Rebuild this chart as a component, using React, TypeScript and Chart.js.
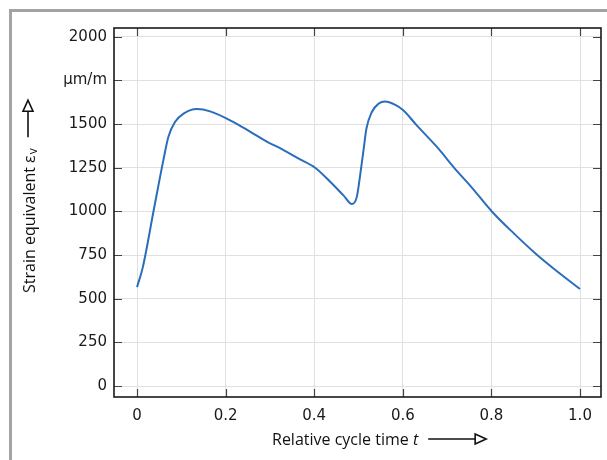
import React, { useEffect, useRef } from "react";
import { Chart, registerables } from "chart.js";

Chart.register(...registerables);

const tValues = [
  0, 0.013, 0.037, 0.059, 0.071, 0.086, 0.105, 0.135, 0.165,
  0.217, 0.255, 0.296, 0.315, 0.368, 0.402, 0.436, 0.466, 0.485, 0.496,
  0.503, 0.511, 0.518, 0.53, 0.545, 0.56, 0.582, 0.601, 0.631, 0.676,
  0.722, 0.752, 0.801, 0.85, 0.902, 0.951, 1.0,
];
const strainValues = [
  567, 680, 998, 1288, 1429, 1513, 1560, 1586, 1573,
  1513, 1457, 1395, 1372, 1298, 1250, 1170, 1092, 1042, 1082,
  1195, 1345, 1476, 1569, 1616, 1629, 1611, 1579, 1494, 1372,
  1232, 1148, 1000, 876, 754, 652, 556,
];
const xTickValues = [0, 0.2, 0.4, 0.6, 0.8, 1.0];
const xTickLabels = ["0", "0.2", "0.4", "0.6", "0.8", "1.0"];
const yTickValues = [0, 250, 500, 750, 1000, 1250, 1500, 1750, 2000];
const yTickLabels = ["0", "250", "500", "750", "1000", "1250", "1500", "µm/m", "2000"];
const yTitle = "Strain equivalent ε";
const yTitleSub = "v";
const xTitle = "Relative cycle time ";
const xTitleVar = "t";

const TITLE_FONT = "16px 'Open Sans'";

function drawArrow(ctx: CanvasRenderingContext2D, x0: number, y0: number, x1: number, y1: number) {
  const ang = Math.atan2(y1 - y0, x1 - x0);
  const headLen = 11;
  const headHalf = 5;
  const bx = x1 - headLen * Math.cos(ang);
  const by = y1 - headLen * Math.sin(ang);
  ctx.save();
  ctx.strokeStyle = "#111";
  ctx.lineWidth = 1.6;
  ctx.beginPath();
  ctx.moveTo(x0, y0);
  ctx.lineTo(bx, by);
  ctx.stroke();
  const px = -Math.sin(ang);
  const py = Math.cos(ang);
  ctx.beginPath();
  ctx.moveTo(x1, y1);
  ctx.lineTo(bx + px * headHalf, by + py * headHalf);
  ctx.lineTo(bx - px * headHalf, by - py * headHalf);
  ctx.closePath();
  ctx.stroke();
  ctx.restore();
}

const framePlugin = {
  id: "framePlugin",
  afterDraw(chart: any) {
    const ctx: CanvasRenderingContext2D = chart.ctx;
    const { left, right, top, bottom } = chart.chartArea;
    const xs = chart.scales.x;
    const ys = chart.scales.y;
    ctx.save();
    ctx.strokeStyle = "#444";
    ctx.lineWidth = 1.2;
    ctx.beginPath();
    xTickValues.forEach((v) => {
      const px = Math.round(xs.getPixelForValue(v)) + 0.5;
      ctx.moveTo(px, bottom);
      ctx.lineTo(px, bottom - 8);
      ctx.moveTo(px, top);
      ctx.lineTo(px, top + 8);
    });
    yTickValues.forEach((v) => {
      const py = Math.round(ys.getPixelForValue(v)) + 0.5;
      ctx.moveTo(left, py);
      ctx.lineTo(left + 8, py);
      ctx.moveTo(right, py);
      ctx.lineTo(right - 8, py);
    });
    ctx.stroke();
    ctx.strokeStyle = "#1a1a1a";
    ctx.lineWidth = 1.6;
    ctx.strokeRect(left, top, right - left, bottom - top);

    // x title
    ctx.fillStyle = "#111";
    ctx.font = TITLE_FONT;
    ctx.textBaseline = "middle";
    ctx.textAlign = "left";
    const xtY = bottom + 43;
    const xtX = left + 158;
    ctx.fillText(xTitle, xtX, xtY);
    const w1 = ctx.measureText(xTitle).width;
    ctx.font = "italic " + TITLE_FONT;
    ctx.fillText(xTitleVar, xtX + w1, xtY);
    const w2 = ctx.measureText(xTitleVar).width;
    const axStart = xtX + w1 + w2 + 10;
    drawArrow(ctx, axStart, xtY - 1, axStart + 58, xtY - 1);

    // y title (rotated)
    ctx.save();
    const ytX = 18;
    const ytY = 281;
    ctx.translate(ytX, ytY);
    ctx.rotate(-Math.PI / 2);
    ctx.font = TITLE_FONT;
    ctx.textBaseline = "middle";
    ctx.textAlign = "left";
    ctx.fillText(yTitle, 0, 0);
    const yw = ctx.measureText(yTitle).width;
    ctx.font = "12px 'Open Sans'";
    ctx.fillText(yTitleSub, yw + 1, 4);
    const sw = ctx.measureText(yTitleSub).width;
    ctx.restore();
    const arrowStartY = ytY - (yw + sw + 12);
    drawArrow(ctx, ytX - 2, arrowStartY, ytX - 2, arrowStartY - 37);
    ctx.restore();
  },
};

export default function App() {
  const canvasRef = useRef<HTMLCanvasElement | null>(null);

  useEffect(() => {
    if (!canvasRef.current) return;
    const points = tValues.map((t, i) => ({ x: t, y: strainValues[i] }));
    const chart = new Chart(canvasRef.current, {
      type: "line",
      data: {
        datasets: [
          {
            data: points,
            borderColor: "#2a6ebb",
            borderWidth: 2,
            pointRadius: 0,
            cubicInterpolationMode: "monotone",
            fill: false,
          },
        ],
      },
      options: {
        responsive: false,
        animation: false,
        maintainAspectRatio: false,
        layout: { padding: { top: 9, right: 6, left: 0, bottom: 0 } },
        plugins: {
          legend: { display: false },
          tooltip: { enabled: false },
        },
        scales: {
          x: {
            type: "linear",
            min: -0.052,
            max: 1.0474,
            afterBuildTicks: (s: any) => {
              s.ticks = xTickValues.map((v) => ({ value: v }));
            },
            afterFit: (s: any) => {
              s.height = 63;
            },
            grid: { color: "#e0e0e0", lineWidth: 1, drawTicks: false },
            border: { display: false },
            ticks: {
              padding: 10,
              color: "#1a1a1a",
              font: { family: "DejaVu Sans", size: 15 },
              autoSkip: false,
              maxRotation: 0,
              callback: (v: any) => {
                const i = xTickValues.findIndex((x) => Math.abs(x - v) < 1e-9);
                return i >= 0 ? xTickLabels[i] : "";
              },
            },
          },
          y: {
            type: "linear",
            min: -62,
            max: 2050,
            afterBuildTicks: (s: any) => {
              s.ticks = yTickValues.map((v) => ({ value: v }));
            },
            afterFit: (s: any) => {
              s.width = 102;
            },
            grid: { color: "#e0e0e0", lineWidth: 1, drawTicks: false },
            border: { display: false },
            ticks: {
              padding: 7,
              color: "#1a1a1a",
              font: { family: "DejaVu Sans", size: 15 },
              autoSkip: false,
              callback: (v: any) => {
                const i = yTickValues.findIndex((y) => Math.abs(y - v) < 1e-9);
                return i >= 0 ? yTickLabels[i] : "";
              },
            },
          },
        },
      },
      plugins: [framePlugin],
    } as any);
    return () => chart.destroy();
  }, []);

  return (
    <div
      style={{
        position: "absolute",
        left: 9,
        top: 9,
        width: 598,
        height: 451,
        boxSizing: "border-box",
        borderTop: "3px solid #a3a3a3",
        borderLeft: "3px solid #a3a3a3",
        background: "#fff",
        overflow: "hidden",
      }}
    >
      <canvas ref={canvasRef} width={595} height={448} style={{ display: "block" }} />
    </div>
  );
}
